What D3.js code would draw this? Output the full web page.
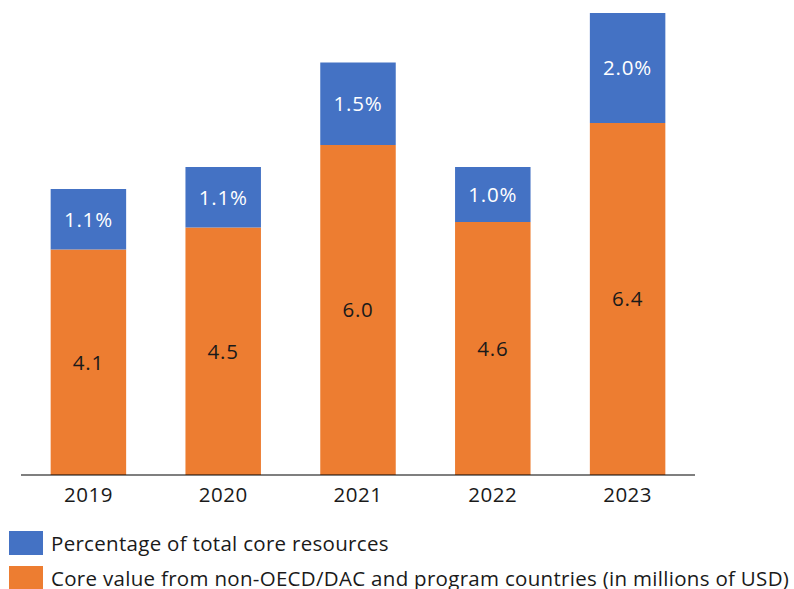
<!DOCTYPE html>
<html>
<head>
<meta charset="utf-8">
<script src="https://cdn.jsdelivr.net/npm/d3@7"></script>
<style>
  html, body { margin: 0; padding: 0; background: #fff; }
  svg { display: block; font-family: "Open Sans", "Noto Sans", sans-serif; }
</style>
</head>
<body>
<svg id="chart" width="794" height="589"></svg>
<script>
// Years on the x axis
const years = ["2019", "2020", "2021", "2022", "2023"];
// Core value from non-OECD/DAC and program countries (millions of USD)
const coreValues = [4.1, 4.5, 6.0, 4.6, 6.4];
// Percentage of total core resources
const percentValues = [1.1, 1.1, 1.5, 1.0, 2.0];

const seriesNames = [
  "Core value from non-OECD/DAC and program countries (in millions of USD)",
  "Percentage of total core resources"
];
const colors = { core: "#ED7D31", pct: "#4472C4" };
const textColor = "#1a1a1a";

const rows = years.map((y, i) => ({ year: y, core: coreValues[i], pct: percentValues[i] }));
const stacked = d3.stack().keys(["core", "pct"])(rows);

const svg = d3.select("#chart");

const x = d3.scaleBand()
  .domain(years)
  .range([21, 695])
  .paddingInner(0.44)
  .paddingOuter(0.22);

const y = d3.scaleLinear()
  .domain([0, 8.6])
  .range([475, 2]);

// Stacked bars
const layers = svg.append("g").selectAll("g")
  .data(stacked)
  .join("g")
  .attr("fill", d => colors[d.key]);

layers.selectAll("rect")
  .data(d => d.map(p => ({ key: d.key, p })))
  .join("rect")
  .attr("x", d => x(d.p.data.year))
  .attr("width", x.bandwidth())
  .attr("y", d => y(d.p[1]))
  .attr("height", d => y(d.p[0]) - y(d.p[1]));

// Segment labels, centred in each segment
layers.selectAll("text")
  .data(d => d.map(p => ({ key: d.key, p })))
  .join("text")
  .attr("x", d => x(d.p.data.year) + x.bandwidth() / 2)
  .attr("y", d => (y(d.p[0]) + y(d.p[1])) / 2)
  .attr("dy", "0.36em")
  .attr("text-anchor", "middle")
  .attr("font-size", 20.5)
  .attr("letter-spacing", 0.8)
  .attr("fill", d => d.key === "pct" ? "#ffffff" : textColor)
  .text(d => d.key === "pct"
    ? d3.format(".1f")(d.p.data.pct) + "%"
    : d3.format(".1f")(d.p.data.core));

// X axis
const xAxis = svg.append("g")
  .attr("transform", "translate(0,475)")
  .call(d3.axisBottom(x).tickSize(0).tickPadding(12));
xAxis.select(".domain").attr("stroke", "#000").attr("stroke-width", 1.2).attr("d", "M21,0H695");
xAxis.selectAll("text")
  .attr("font-size", 20.5)
  .attr("letter-spacing", 0.5)
  .attr("font-family", "\"Open Sans\", \"Noto Sans\", sans-serif")
  .attr("fill", textColor);

// Legend
const legendItems = [
  { name: seriesNames[1], color: colors.pct },
  { name: seriesNames[0], color: colors.core }
];
const legend = svg.append("g").selectAll("g")
  .data(legendItems)
  .join("g")
  .attr("transform", (d, i) => `translate(9,${531 + i * 35})`);
legend.append("rect")
  .attr("width", 34)
  .attr("height", 24)
  .attr("fill", d => d.color);
legend.append("text")
  .attr("x", 42)
  .attr("y", 13)
  .attr("dy", "0.35em")
  .attr("font-size", 20.5)
  .attr("letter-spacing", 0.3)
  .attr("fill", textColor)
  .text(d => d.name);
</script>
</body>
</html>
